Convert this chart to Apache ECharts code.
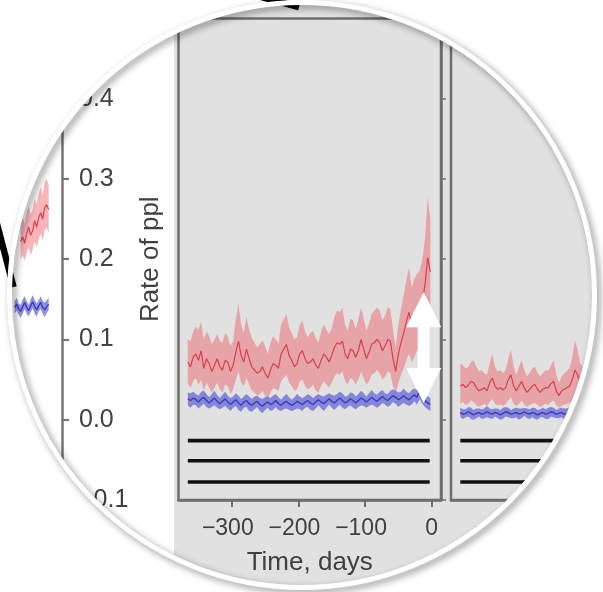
<!DOCTYPE html>
<html>
<head>
<meta charset="utf-8">
<script src="https://cdn.jsdelivr.net/npm/echarts@6/dist/echarts.min.js"></script>
<style>
  html, body { margin: 0; padding: 0; background: #fff; }
  #chart {
    width: 603px; height: 592px;
    background: linear-gradient(to right, #ffffff 174px, #e1e1e1 174px);
  }
</style>
</head>
<body>
<div id="chart"></div>
<script>
// ---- axis settings ----
const dayMin = -380, dayMax = 14;
const leftDayMin = -79;            // the left panel only shows its final weeks
const rateMin = -0.1, rateMax = 0.5, rateStep = 0.1;
const dayTicks = [-300, -200, -100, 0];

// ---- event bars (three black rows under the traces) ----
const barLevels = [-0.026, -0.051, -0.0775];
const barSpan = [-366, -3];

// ---- centre panel: days -366 .. -2, every 4 days ----
const midStart = -366, midStep = 4;
const midRedLo = [
  .045,.040,.048,.052,.044,.050,.036,.046,.040,.034,
  .040,.046,.038,.034,.044,.042,.032,.038,.050,.060,
  .046,.042,.052,.044,.036,.034,.030,.032,.036,.030,
  .026,.034,.040,.038,.036,.048,.052,.056,.046,.042,
  .036,.038,.048,.050,.042,.038,.040,.044,.036,.034,
  .042,.048,.044,.040,.046,.054,.058,.056,.060,.048,
  .044,.052,.050,.044,.050,.060,.052,.044,.048,.056,
  .058,.062,.058,.050,.054,.060,.058,.042,.032,.046,
  .056,.064,.074,.082,.072,.078,.086,.090,.098,.110,
  .128,.120];
const midRedMean = [
  .072,.066,.078,.082,.074,.086,.064,.076,.070,.060,
  .068,.076,.066,.062,.074,.072,.060,.068,.084,.098,
  .080,.072,.088,.076,.066,.062,.058,.060,.066,.058,
  .052,.062,.070,.068,.064,.082,.088,.094,.080,.074,
  .066,.070,.082,.086,.076,.070,.072,.076,.068,.064,
  .074,.082,.078,.072,.080,.090,.096,.094,.098,.082,
  .076,.088,.086,.078,.086,.100,.088,.076,.084,.094,
  .096,.100,.096,.086,.092,.100,.098,.076,.060,.082,
  .096,.108,.122,.134,.118,.126,.134,.138,.148,.168,
  .202,.184];
const midRedHi = [
  .100,.098,.110,.116,.112,.122,.100,.110,.104,.094,
  .100,.107,.098,.096,.108,.104,.092,.098,.125,.145,
  .118,.108,.128,.112,.102,.096,.090,.094,.099,.092,
  .082,.096,.104,.100,.095,.119,.125,.132,.115,.108,
  .100,.103,.118,.124,.110,.103,.108,.111,.102,.096,
  .110,.119,.112,.107,.114,.128,.136,.134,.140,.118,
  .111,.126,.124,.113,.125,.140,.126,.111,.120,.132,
  .136,.140,.136,.124,.130,.140,.138,.112,.090,.118,
  .138,.155,.174,.190,.165,.175,.182,.186,.200,.226,
  .278,.250];
const midBlueMean = [
  .026,.024,.027,.025,.022,.026,.028,.024,.021,.024,
  .027,.023,.020,.023,.026,.022,.019,.022,.025,.021,
  .018,.022,.024,.020,.018,.021,.023,.019,.017,.020,
  .022,.019,.021,.024,.020,.018,.021,.023,.020,.018,
  .020,.023,.021,.019,.022,.024,.021,.019,.022,.025,
  .022,.020,.023,.026,.023,.021,.024,.027,.024,.021,
  .023,.026,.024,.021,.024,.027,.025,.022,.025,.028,
  .025,.023,.026,.029,.026,.024,.027,.030,.028,.025,
  .027,.030,.027,.025,.028,.031,.028,.036,.029,.024,
  .021,.019];
const midBlueSpread = [
  .008,.009,.008,.007,.008,.009,.008,.008,.007,.008,
  .009,.008,.007,.008,.009,.008,.008,.007,.008,.009,
  .008,.007,.008,.009,.008,.008,.007,.008,.009,.008,
  .007,.008,.009,.008,.008,.007,.008,.009,.008,.007,
  .008,.009,.008,.008,.007,.008,.009,.008,.008,.007,
  .008,.009,.008,.007,.008,.009,.008,.008,.009,.008,
  .007,.008,.009,.008,.008,.009,.008,.007,.008,.009,
  .008,.008,.009,.008,.007,.008,.009,.008,.008,.009,
  .008,.009,.008,.008,.009,.008,.009,.010,.009,.008,
  .008,.008];

// ---- right panel: days -366 .. -170, every 4 days ----
const rightStart = -366, rightStep = 4;
const rightRedLo = [
  .020,.022,.018,.020,.024,.022,.018,.016,.018,.020,
  .017,.022,.026,.020,.018,.019,.017,.020,.024,.028,
  .020,.017,.020,.024,.019,.016,.018,.020,.021,.018,
  .016,.018,.020,.019,.022,.024,.018,.015,.017,.019,
  .020,.021,.024,.030,.027,.022,.020,.024,.028,.030];
const rightRedMean = [
  .042,.044,.040,.043,.048,.046,.040,.036,.038,.040,
  .036,.046,.052,.042,.038,.040,.037,.040,.050,.056,
  .042,.036,.042,.048,.040,.034,.038,.042,.044,.038,
  .034,.038,.040,.040,.045,.048,.036,.030,.036,.038,
  .040,.042,.050,.062,.056,.046,.042,.050,.058,.062];
const rightRedHi = [
  .070,.068,.064,.066,.072,.074,.066,.060,.062,.058,
  .056,.070,.082,.066,.060,.062,.058,.062,.076,.088,
  .066,.056,.066,.074,.062,.054,.058,.064,.066,.058,
  .054,.058,.062,.061,.068,.074,.056,.046,.054,.058,
  .061,.064,.078,.099,.088,.070,.066,.080,.094,.100];
const rightBlueMean = [
  .009,.007,.008,.010,.008,.006,.008,.009,.007,.008,
  .010,.008,.007,.009,.008,.006,.008,.010,.009,.007,
  .008,.009,.007,.008,.010,.008,.007,.009,.008,.006,
  .008,.009,.007,.008,.010,.009,.007,.008,.009,.007,
  .008,.010,.009,.007,.008,.009,.008,.010,.009,.008];
const rightBlueSpread = [
  .006,.006,.005,.006,.007,.006,.006,.005,.006,.006,
  .007,.006,.006,.005,.006,.006,.007,.006,.006,.005,
  .006,.006,.007,.006,.005,.006,.006,.006,.007,.006,
  .005,.006,.006,.007,.006,.006,.005,.006,.006,.007,
  .006,.006,.005,.006,.006,.007,.006,.006,.005,.006];

// ---- left panel (only its last weeks show) ----
const leftRedStart = -48, leftRedStep = 3;
const leftRedLo   = [.200,.205,.198,.208,.215,.205,.212,.222,.215,.225,.232,.224,.236,.240,.232];
const leftRedMean = [.222,.228,.220,.232,.240,.230,.236,.248,.240,.252,.258,.250,.264,.268,.262];
const leftRedHi   = [.245,.252,.244,.258,.266,.256,.262,.275,.268,.282,.290,.280,.296,.300,.292];
const leftBlueStart = -57, leftBlueStep = 3;
const leftBlueMean   = [.140,.144,.138,.135,.141,.146,.140,.136,.142,.147,.141,.137,.142,.146,.140,.137,.141,.144];
const leftBlueSpread = [.008,.008,.007,.008,.009,.008,.008,.007,.008,.008,.009,.008,.007,.008,.008,.009,.008,.008];

// ---- the difference arrow at the end of the window ----
const arrowDay = -12, arrowFrom = 0.021, arrowTo = 0.159;

(function () {
  // ---- styling ----
  const FONT = 'Liberation Sans';
  const TEXT = '#404040';
  const FRAME = '#6e6e6e';
  const RED_BAND = 'rgba(240,90,100,0.45)';
  const RED_LINE = 'rgba(214,44,56,0.85)';
  const BLUE_BAND = 'rgba(90,90,215,0.68)';
  const BLUE_LINE = 'rgba(55,55,180,0.95)';

  const pts = (start, step, arr) => arr.map((v, i) => [start + i * step, v]);

  // Confidence band: a polygon along the upper edge and back along the lower edge.
  function bandSeries(gi, start, step, lo, hi, color, z) {
    return {
      type: 'custom', xAxisIndex: gi, yAxisIndex: gi, z, silent: true, clip: true,
      data: [[start, lo[0]]],
      renderItem: (params, api) => {
        const points = [];
        hi.forEach((v, i) => points.push(api.coord([start + i * step, v])));
        for (let i = lo.length - 1; i >= 0; i--) points.push(api.coord([start + i * step, lo[i]]));
        return { type: 'polygon', shape: { points }, style: { fill: color } };
      }
    };
  }
  function lineSeries(gi, start, step, arr, color, width, z) {
    return { type: 'line', xAxisIndex: gi, yAxisIndex: gi, z, clip: true,
      data: pts(start, step, arr), showSymbol: false, silent: true,
      lineStyle: { color, width } };
  }
  function panelSeries(gi, redStart, redStep, rLo, rMean, rHi, blueStart, blueStep, bMean, bSpread) {
    const bLo = bMean.map((m, i) => m - bSpread[i]);
    const bHi = bMean.map((m, i) => m + bSpread[i]);
    const out = [];
    out.push(bandSeries(gi, redStart, redStep, rLo, rHi, RED_BAND, 2));
    out.push(lineSeries(gi, redStart, redStep, rMean, RED_LINE, 1.2, 3));
    out.push(bandSeries(gi, blueStart, blueStep, bLo, bHi, BLUE_BAND, 4));
    out.push(lineSeries(gi, blueStart, blueStep, bMean, BLUE_LINE, 1.4, 5));
    barLevels.forEach(level => {
      out.push({ type: 'line', xAxisIndex: gi, yAxisIndex: gi, z: 6, showSymbol: false, silent: true,
        clip: true, data: barSpan.map(d => [d, level]), lineStyle: { color: '#111', width: 3.6 } });
    });
    return out;
  }

  const rateLabel = v => (v < -1e-9 ? '\u2212' : '') + Math.abs(v).toFixed(1);
  const dayLabel = v => v < 0 ? '{n|\u2212' + Math.abs(v) + '}' : '{z|' + v + '}';
  const dayRich = {
    n: { fontSize: 23, color: TEXT, fontFamily: FONT, padding: [0, 8, 0, 0] },
    z: { fontSize: 23, color: TEXT, fontFamily: FONT }
  };

  function dayAxis(gi, withName) {
    const ax = {
      gridIndex: gi, type: 'value', min: dayMin, max: dayMax, position: 'bottom',
      axisLine: { show: true, onZero: false, lineStyle: { color: FRAME, width: 2.5 } },
      axisTick: { show: true, length: 7, customValues: dayTicks, lineStyle: { color: FRAME, width: 2 } },
      axisLabel: { show: true, margin: 17, customValues: dayTicks, formatter: dayLabel, rich: dayRich },
      splitLine: { show: false }
    };
    if (withName) {
      ax.name = 'Time, days';
      ax.nameLocation = 'middle';
      ax.nameGap = 50;
      ax.nameTextStyle = { fontSize: 26, color: TEXT, fontFamily: FONT };
    }
    return ax;
  }

  const chart = echarts.init(document.getElementById('chart'), null, { renderer: 'canvas' });

  const gridTop = 18.5, gridH = 481.5, gridW = 262.5;
  chart.setOption({
    animation: false,
    backgroundColor: 'transparent',
    textStyle: { fontFamily: FONT },
    grid: [
      { left: 0, top: gridTop, width: 62, height: gridH, show: false,
        containLabel: false, outerBoundsMode: 'none' },
      { left: 178.5, top: gridTop, width: gridW, height: gridH, show: true,
        borderColor: FRAME, borderWidth: 2.5, backgroundColor: 'transparent',
        containLabel: false, outerBoundsMode: 'none' },
      { left: 451, top: gridTop, width: gridW, height: gridH, show: true,
        borderColor: FRAME, borderWidth: 2.5, backgroundColor: 'transparent',
        containLabel: false, outerBoundsMode: 'none' }
    ],
    xAxis: [
      { gridIndex: 0, type: 'value', min: leftDayMin, max: dayMax, show: false },
      dayAxis(1, true),
      dayAxis(2, false)
    ],
    yAxis: [
      { gridIndex: 0, type: 'value', position: 'right', min: rateMin, max: rateMax, interval: rateStep,
        axisLine: { show: true, onZero: false, lineStyle: { color: '#757575', width: 2.5 } },
        axisTick: { show: true, length: 7, lineStyle: { color: '#757575', width: 2 } },
        axisLabel: { show: true, margin: 17, fontSize: 25, color: TEXT, fontFamily: FONT,
                     formatter: rateLabel, padding: [5, 0, 0, 0] },
        splitLine: { show: false },
        name: 'Rate of ppl', nameLocation: 'middle', nameRotate: 90, nameGap: 76,
        nameTextStyle: { fontSize: 26, color: TEXT, fontFamily: FONT } },
      { gridIndex: 1, type: 'value', position: 'right', min: rateMin, max: rateMax, interval: rateStep,
        axisLine: { show: true, onZero: false, lineStyle: { color: FRAME, width: 2.5 } },
        axisTick: { show: true, length: 5, lineStyle: { color: FRAME, width: 1.5 } },
        axisLabel: { show: false }, splitLine: { show: false } },
      { gridIndex: 2, type: 'value', min: rateMin, max: rateMax, interval: rateStep, show: false,
        axisLine: { onZero: false } }
    ],
    series: [
      ...panelSeries(0, leftRedStart, leftRedStep, leftRedLo, leftRedMean, leftRedHi,
                     leftBlueStart, leftBlueStep, leftBlueMean, leftBlueSpread),
      ...panelSeries(1, midStart, midStep, midRedLo, midRedMean, midRedHi,
                     midStart, midStep, midBlueMean, midBlueSpread),
      ...panelSeries(2, rightStart, rightStep, rightRedLo, rightRedMean, rightRedHi,
                     rightStart, rightStep, rightBlueMean, rightBlueSpread)
    ]
  });

  // Double-headed arrow placed from data values, then the round lens frame on top.
  const tipHi = chart.convertToPixel({ gridIndex: 1 }, [arrowDay, arrowTo]);
  const tipLo = chart.convertToPixel({ gridIndex: 1 }, [arrowDay, arrowFrom]);
  const cx = tipHi[0], yt = tipHi[1], yb = tipLo[1];
  const hw = 17.5, hh = 35, sw = 6;
  const arrowPts = [
    [cx, yt], [cx + hw, yt + hh], [cx + sw, yt + hh], [cx + sw, yb - hh], [cx + hw, yb - hh],
    [cx, yb], [cx - hw, yb - hh], [cx - sw, yb - hh], [cx - sw, yt + hh], [cx - hw, yt + hh]
  ];

  const lens = { cx: 302, cy: 295, r: 290 };
  chart.setOption({
    graphic: [
      { type: 'polygon', id: 'arrow', z: 50, silent: true,
        shape: { points: arrowPts }, style: { fill: '#ffffff' } },
      { type: 'circle', id: 'mask', z: 100, silent: true,
        shape: { cx: lens.cx, cy: lens.cy, r: lens.r + 400 },
        style: { fill: null, stroke: '#ffffff', lineWidth: 800 } },
      { type: 'line', id: 'leaderTop', z: 101, silent: true,
        shape: { x1: 250, y1: -6, x2: 299, y2: 7 },
        style: { stroke: '#000', lineWidth: 6.5 } },
      { type: 'line', id: 'leaderLeft', z: 101, silent: true,
        shape: { x1: -4, y1: 220, x2: 13.5, y2: 287 },
        style: { stroke: '#000', lineWidth: 6.5 } },
      { type: 'circle', id: 'rim', z: 102, silent: true,
        shape: { cx: lens.cx, cy: lens.cy, r: lens.r + 2.5 },
        style: { fill: null, stroke: '#ffffff', lineWidth: 5,
                 shadowBlur: 7, shadowColor: 'rgba(0,0,0,0.45)', shadowOffsetX: 3, shadowOffsetY: 3 } }
    ]
  });
})();
</script>
</body>
</html>
